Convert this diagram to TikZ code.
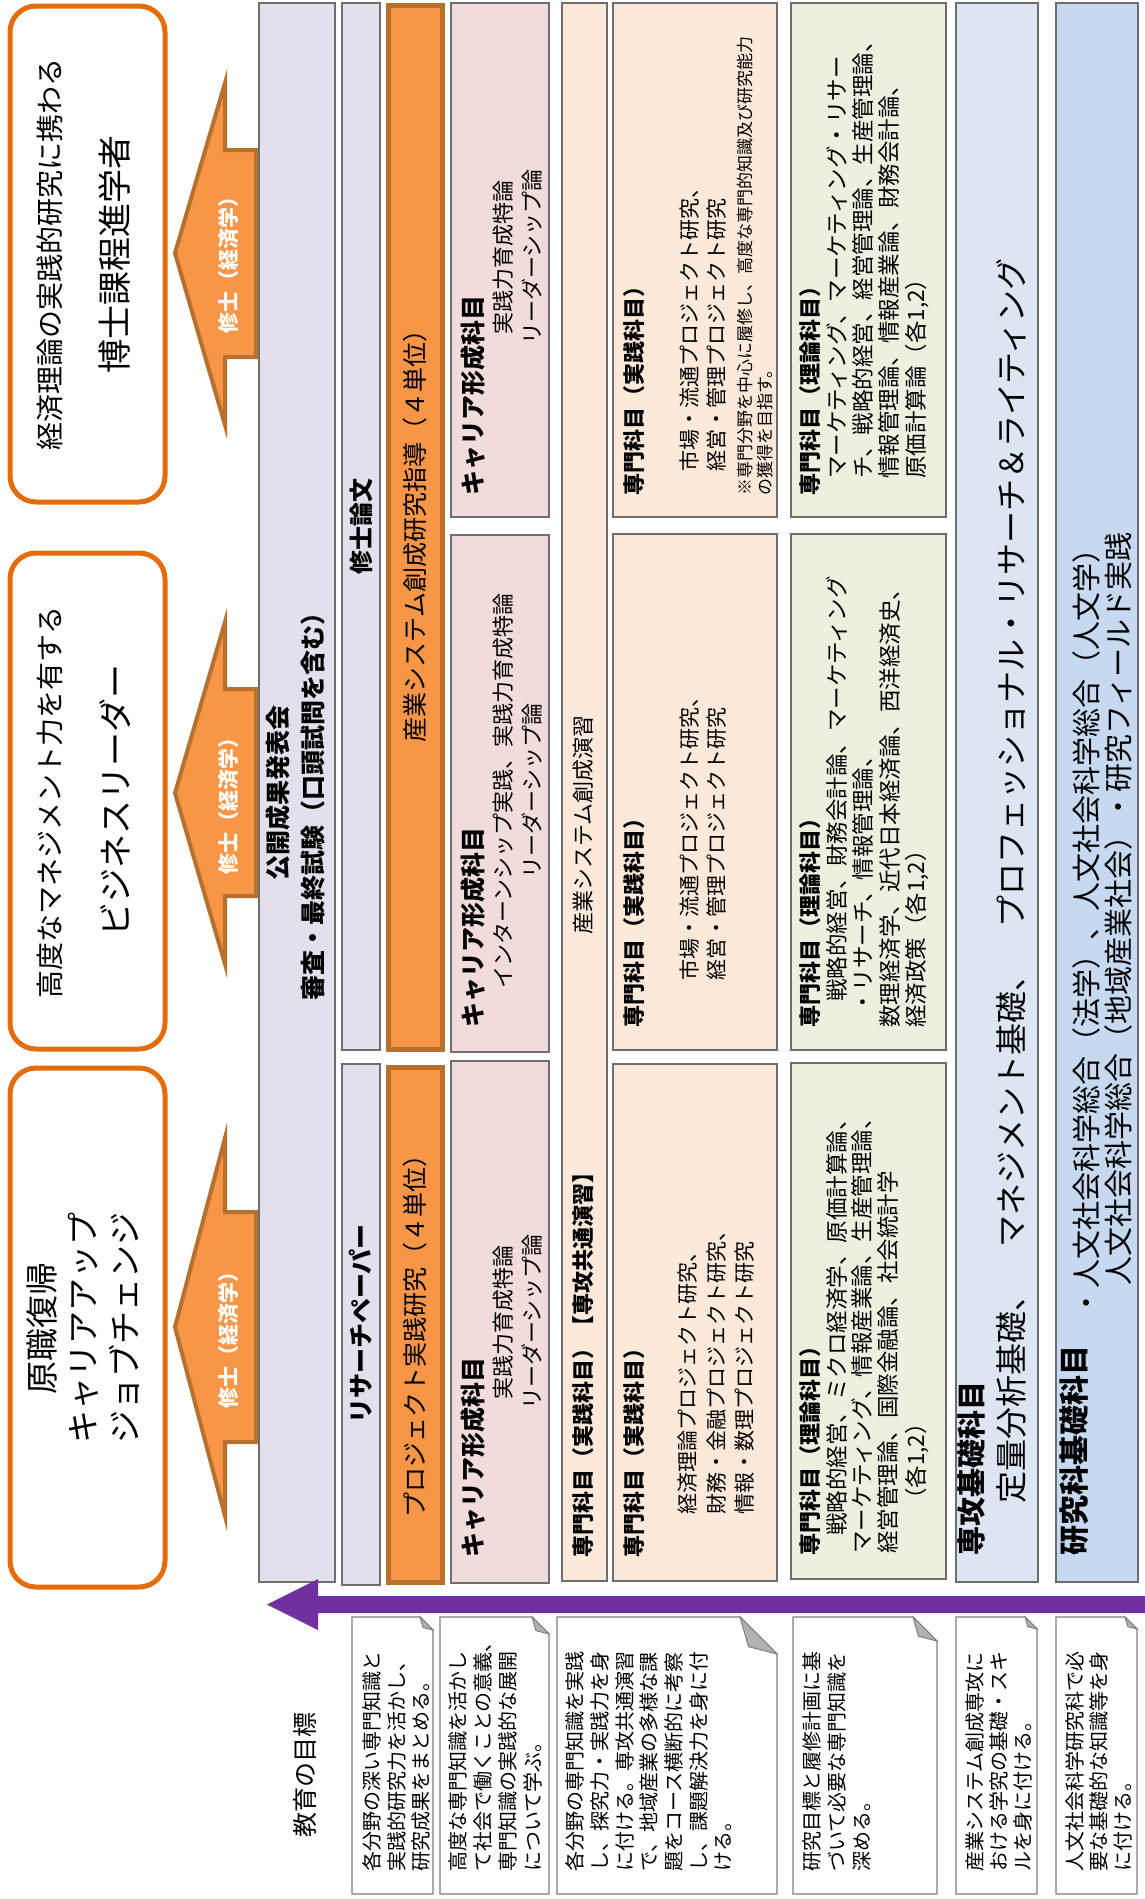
\documentclass[tikz,border=0pt]{standalone}
\usepackage{fontspec}
\setmainfont{Noto Sans CJK JP}
\definecolor{outor}{HTML}{E46C0A}
\definecolor{arrfill}{HTML}{F79646}
\definecolor{arrline}{HTML}{B8702E}
\definecolor{lav}{HTML}{E4DFEC}
\definecolor{pinkc}{HTML}{F2DCDB}
\definecolor{peach}{HTML}{FDE9D9}
\definecolor{greenc}{HTML}{EBF1DE}
\definecolor{lblue}{HTML}{DCE6F2}
\definecolor{bluec}{HTML}{C6D9F1}
\definecolor{purp}{HTML}{7030A0}
\definecolor{edge}{HTML}{6E6E6E}
\definecolor{notegray}{HTML}{7F7F7F}
\newcommand\fsz[2]{\fontsize{#1}{#2}\selectfont}
\begin{document}
\begin{tikzpicture}[x=1pt,y=-1pt,
  tx/.style={rotate=90, inner sep=0pt, anchor=center, text=black},
  txw/.style={rotate=90, inner sep=0pt, anchor=west, text=black},
  colbox/.style={draw=edge, line width=1.4pt},
  outbox/.style={draw=outor, line width=5pt, rounded corners=26pt, fill=white},
  orbox/.style={draw=arrline, line width=5pt, fill=arrfill},
  bigarrow/.style={draw=arrline, line width=4pt, fill=arrfill, line join=miter},
  notebox/.style={draw=notegray, line width=1.3pt, fill=white},
  foldtri/.style={draw=notegray, line width=1pt, fill=black!30},
  hd/.style={font=\fsz{25}{25}\bfseries},
  hds/.style={font=\fsz{22}{22}\bfseries},
]
\useasboundingbox (0,0) rectangle (1145,1899);
\fill[white] (0,0) rectangle (1145,1899);

% ---------- outcome boxes ----------
\draw[outbox] (10,6) rectangle (165,502);
\node[tx, font=\fsz{28}{28}] (o3a) at (50,254) {経済理論の実践的研究に携わる};
\node[tx, font=\fsz{34}{34}] (o3b) at (115,254) {博士課程進学者};

\draw[outbox] (10,553) rectangle (165,1049);
\node[tx, font=\fsz{28}{28}] (o2a) at (50,802) {高度なマネジメント力を有する};
\node[tx, font=\fsz{34}{34}] (o2b) at (115,800) {ビジネスリーダー};

\draw[outbox] (10,1068) rectangle (165,1587);
\node[tx, align=center, font=\fsz{33}{41.5}] (o1) at (83,1328) {原職復帰\\キャリアアップ\\ジョブチェンジ};

% ---------- orange arrows ----------
\draw[bigarrow] (256,150) -- (225,150) -- (225,83) -- (175,253) -- (225,425) -- (225,357) -- (256,357) -- cycle;
\node[tx, text=white, font=\fsz{21}{21}\bfseries] (a3t) at (229,260) {修士（経済学）};
\draw[bigarrow] (256,689) -- (225,689) -- (225,622) -- (175,793) -- (225,964) -- (225,896) -- (256,896) -- cycle;
\node[tx, text=white, font=\fsz{21}{21}\bfseries] (a2t) at (229,801) {修士（経済学）};
\draw[bigarrow] (256,1212) -- (225,1212) -- (225,1138) -- (175,1327) -- (225,1516) -- (225,1442) -- (256,1442) -- cycle;
\node[tx, text=white, font=\fsz{21}{21}\bfseries] (a1t) at (229,1335) {修士（経済学）};

% ---------- lavender column ----------
\draw[colbox, fill=lav] (259,3) rectangle (335,1582);
\node[tx, font=\fsz{25}{25}\bfseries] (kokai) at (278,793) {公開成果発表会};
\node[tx, font=\fsz{25}{25}\bfseries] (shinsa) at (313,800) {審査・最終試験（口頭試問を含む）};

% ---------- thesis columns ----------
\draw[colbox, fill=lav] (342,3) rectangle (380,1050);
\node[tx, font=\fsz{24}{24}\bfseries] (shuron) at (361,526) {修士論文};
\draw[colbox, fill=lav] (342,1064) rectangle (380,1585);
\node[tx, font=\fsz{25}{25}\bfseries] (rpaper) at (361,1324) {リサーチペーパー};

% ---------- orange boxes ----------
\draw[orbox] (388.5,5.5) rectangle (442.5,1049.5);
\node[tx, font=\fsz{25}{25}] (sangyo) at (415,530) {産業システム創成研究指導（４単位）};
\draw[orbox] (388.5,1067.5) rectangle (442.5,1582.5);
\node[tx, font=\fsz{25}{25}] (proj) at (415,1330) {プロジェクト実践研究（４単位）};

% ---------- career boxes ----------
\draw[colbox, fill=pinkc] (451,3) rectangle (549,517);
\draw[colbox, fill=pinkc] (451,535) rectangle (549,1052);
\draw[colbox, fill=pinkc] (451,1061) rectangle (549,1583);
\node[txw, hd] (c3h) at (473,496) {キャリア形成科目};
\node[txw, hd] (c2h) at (473,1028) {キャリア形成科目};
\node[txw, hd] (c1h) at (473,1558) {キャリア形成科目};
\node[tx, align=center, font=\fsz{22}{29}] (c3b) at (517.5,257) {実践力育成特論\\リーダーシップ論};
\node[tx, align=center, font=\fsz{22}{29}] (c2b) at (517.5,791) {インターンシップ実践、実践力育成特論\\リーダーシップ論};
\node[tx, align=center, font=\fsz{22}{29}] (c1b) at (517.5,1322) {実践力育成特論\\リーダーシップ論};

% ---------- common seminar ----------
\draw[colbox, fill=peach] (562,3) rectangle (607,1581);
\node[txw, hds] (semh) at (583,1558) {専門科目（実践科目）【専攻共通演習】};
\node[tx, font=\fsz{22}{22}] (semb) at (583,825) {産業システム創成演習};

% ---------- practice subjects ----------
\draw[colbox, fill=peach] (613,3) rectangle (777,517);
\draw[colbox, fill=peach] (613,534) rectangle (777,1050);
\draw[colbox, fill=peach] (613,1064) rectangle (777,1581);
\node[txw, hds] (p3h) at (634,496) {専門科目（実践科目）};
\node[txw, align=left, font=\fsz{21}{27}] (p3b) at (703.5,472) {市場・流通プロジェクト研究、\\経営・管理プロジェクト研究};
\node[txw, align=left, font=\fsz{17}{20}] (p3n) at (755,496) {※専門分野を中心に履修し、高度な専門的知識及び研究能力\\の獲得を目指す。};
\node[txw, hds] (p2h) at (634,1028) {専門科目（実践科目）};
\node[txw, align=left, font=\fsz{21}{27}] (p2b) at (703.5,981) {市場・流通プロジェクト研究、\\経営・管理プロジェクト研究};
\node[txw, hds] (p1h) at (634,1558) {専門科目（実践科目）};
\node[txw, align=left, font=\fsz{21}{28.5}] (p1b) at (716.5,1515) {経済理論プロジェクト研究、\\財務・金融プロジェクト研究、\\情報・数理プロジェクト研究};

% ---------- theory subjects ----------
\draw[colbox, fill=greenc] (791,3) rectangle (946,517);
\draw[colbox, fill=greenc] (791,534) rectangle (946,1050);
\draw[colbox, fill=greenc] (791,1063) rectangle (946,1579);
\node[txw, hds] (t3h) at (810,496) {専門科目（理論科目）};
\node[txw, align=left, font=\fsz{22.5}{26.3}] (t3b) at (877.5,479) {マーケティング、マーケティング・リサー\\チ、戦略的経営、経営管理論、生産管理論、\\情報管理論、情報産業論、財務会計論、\\原価計算論（各1,2）};
\node[txw, hds] (t2h) at (810,1028) {専門科目（理論科目）};
\node[txw, font=\fsz{22.5}{22.5}] (t2l1) at (837,1002) {戦略的経営、財務会計論、マーケティング};
\node[txw, font=\fsz{22.5}{22.5}] (t2l2) at (863,1014) {・リサーチ、情報管理論、};
\node[txw, align=left, font=\fsz{22.5}{26}] (t2l3) at (904,1028) {数理経済学、近代日本経済論、西洋経済史、\\経済政策（各1,2）};
\node[txw, hds] (t1h) at (810,1556) {専門科目（理論科目）};
\node[txw, font=\fsz{22.5}{22.5}] (t1l1) at (837,1536) {戦略的経営、ミクロ経済学、原価計算論、};
\node[txw, align=left, font=\fsz{22.5}{26}] (t1l2) at (875,1554) {マーケティング、情報産業論、生産管理論、\\経営管理論、国際金融論、社会統計学};
\node[txw, font=\fsz{22.5}{22.5}] (t1l4) at (917,1511) {（各1,2）};

% ---------- basic subjects ----------
\draw[colbox, fill=lblue] (956,3) rectangle (1038,1582);
\node[txw, font=\fsz{29}{29}\bfseries] (kh) at (971,1556) {専攻基礎科目};
\node[txw, font=\fsz{32}{32}] (kb) at (1011,1504) {定量分析基礎、　マネジメント基礎、　プロフェッショナル・リサーチ＆ライティング};

\draw[colbox, fill=bluec] (1056,3) rectangle (1138,1582);
\node[txw, font=\fsz{30}{30}\bfseries] (rh) at (1074,1556) {研究科基礎科目};
\node[txw, font=\fsz{29}{29}] (rl1) at (1086,1318) {・人文社会科学総合（法学）、人文社会科学総合（人文学）};
\node[txw, font=\fsz{29}{29}] (rl2) at (1118,1286) {人文社会科学総合（地域産業社会）・研究フィールド実践};

% ---------- purple arrow ----------
\fill[purp] (1145,1596) -- (318,1596) -- (318,1579) -- (267,1604.5) -- (318,1630) -- (318,1613) -- (1145,1613) -- cycle;

% ---------- goals ----------
\node[tx, font=\fsz{25}{25}] (goal) at (305,1775) {教育の目標};

\draw[notebox] (352,1617) -- (420,1617) -- (433,1630) -- (433,1894) -- (352,1894) -- cycle;
\draw[foldtri] (420,1617) -- (423,1627.4) -- (433,1630) -- cycle;
\node[txw, align=left, font=\fsz{20}{24.5}] (n1) at (396.5,1872) {各分野の深い専門知識と\\実践的研究力を活かし、\\研究成果をまとめる。};

\draw[notebox] (440,1617) -- (532,1617) -- (549,1634) -- (549,1894) -- (440,1894) -- cycle;
\draw[foldtri] (532,1617) -- (536,1630.6) -- (549,1634) -- cycle;
\node[txw, align=left, font=\fsz{20}{25}] (n2) at (495.5,1872) {高度な専門知識を活かし\\て社会で働くことの意義、\\専門知識の実践的な展開\\について学ぶ。};

\draw[notebox] (557,1617) -- (740,1617) -- (777,1654) -- (777,1894) -- (557,1894) -- cycle;
\draw[foldtri] (740,1617) -- (748.5,1646.6) -- (777,1654) -- cycle;
\node[txw, align=left, font=\fsz{20}{24.7}] (n3) at (649,1872) {各分野の専門知識を実践\\し、探究力・実践力を身\\に付ける。専攻共通演習\\で、地域産業の多様な課\\題をコース横断的に考察\\し、課題解決力を身に付\\ける。};

\draw[notebox] (793,1617) -- (913,1617) -- (937,1641) -- (937,1894) -- (793,1894) -- cycle;
\draw[foldtri] (913,1617) -- (918.5,1636.2) -- (937,1641) -- cycle;
\node[txw, align=left, font=\fsz{20}{25}] (n4) at (837,1872) {研究目標と履修計画に基\\づいて必要な専門知識を\\深める。};

\draw[notebox] (956,1617) -- (1025,1617) -- (1037,1629) -- (1037,1894) -- (956,1894) -- cycle;
\draw[foldtri] (1025,1617) -- (1027.8,1626.6) -- (1037,1629) -- cycle;
\node[txw, align=left, font=\fsz{20}{24}] (n5) at (999,1872) {産業システム創成専攻に\\おける学究の基礎・スキ\\ルを身に付ける。};

\draw[notebox] (1056,1617) -- (1125,1617) -- (1137,1629) -- (1137,1894) -- (1056,1894) -- cycle;
\draw[foldtri] (1125,1617) -- (1127.8,1626.6) -- (1137,1629) -- cycle;
\node[txw, align=left, font=\fsz{20}{24}] (n6) at (1099,1872) {人文社会科学研究科で必\\要な基礎的な知識等を身\\に付ける。};
\end{tikzpicture}
\end{document}
